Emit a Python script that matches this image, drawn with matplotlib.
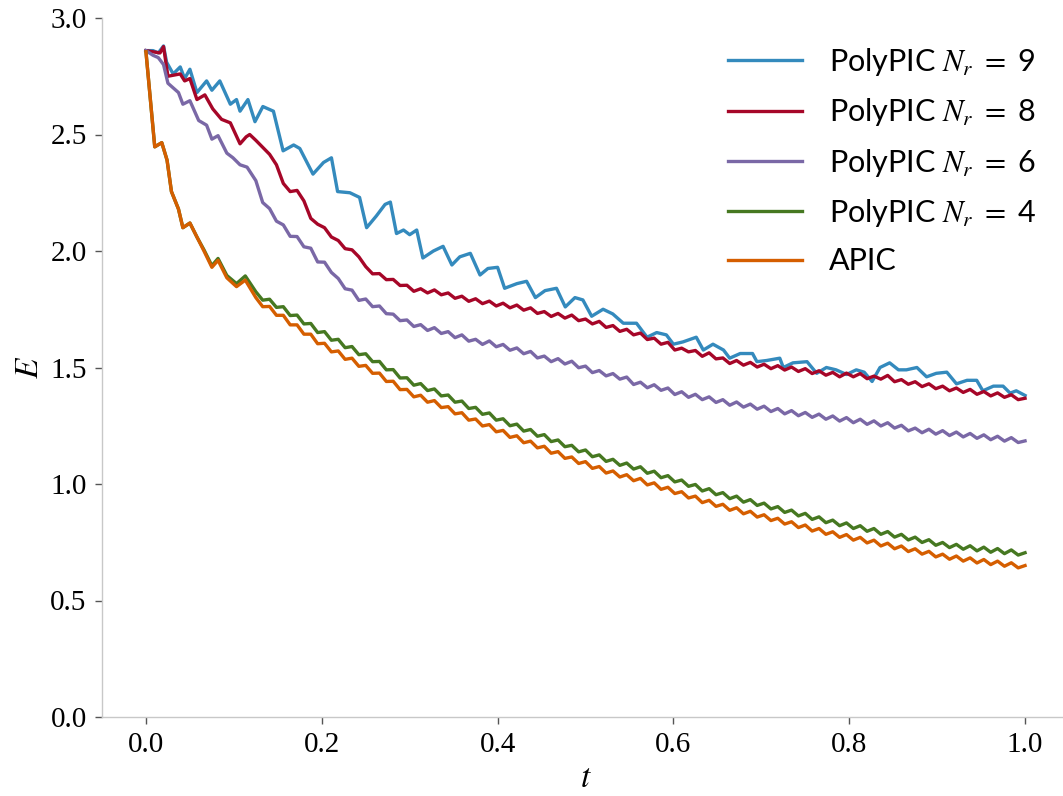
import numpy as np
import matplotlib
matplotlib.use("Agg")
import matplotlib.pyplot as plt

# energy E(t)
# late part of the four smooth-ish curves shares one time grid (0.125 .. 1.0)
t_grid = np.linspace(0.125, 1.0, 113)

# --- PolyPIC N_r = 9 (blue), irregular, own time points
t_nr9 = [0, 0.008, 0.014, 0.020, 0.0235, 0.031, 0.039, 0.044, 0.050, 0.058,
         0.069, 0.075, 0.084, 0.096, 0.103, 0.107, 0.116, 0.124, 0.133, 0.145,
         0.156, 0.168, 0.175, 0.190, 0.202, 0.211, 0.218, 0.232, 0.243, 0.251,
         0.262, 0.272, 0.278, 0.285, 0.293, 0.300, 0.308, 0.315, 0.327, 0.338,
         0.348, 0.357, 0.369, 0.380, 0.389, 0.400, 0.408, 0.422, 0.433, 0.443,
         0.454, 0.467, 0.477, 0.488, 0.497, 0.507, 0.520, 0.531, 0.543, 0.558,
         0.570, 0.581, 0.592, 0.600, 0.611, 0.626, 0.634, 0.645, 0.657, 0.664,
         0.676, 0.690, 0.695, 0.706, 0.721, 0.725, 0.736, 0.752, 0.763, 0.774,
         0.785, 0.797, 0.808, 0.817, 0.826, 0.835, 0.846, 0.856, 0.865, 0.877,
         0.888, 0.899, 0.911, 0.922, 0.934, 0.945, 0.952, 0.964, 0.975, 0.983,
         0.990, 1.000]
e_nr9 = [2.86, 2.86, 2.85, 2.88, 2.81, 2.76, 2.79, 2.74, 2.78, 2.68,
         2.73, 2.69, 2.73, 2.63, 2.65, 2.60, 2.65, 2.555, 2.62, 2.60,
         2.43, 2.455, 2.44, 2.33, 2.38, 2.40, 2.255, 2.25, 2.23, 2.10,
         2.15, 2.20, 2.21, 2.075, 2.09, 2.07, 2.09, 1.97, 2.00, 2.02,
         1.94, 1.975, 1.99, 1.897, 1.925, 1.93, 1.84, 1.86, 1.87, 1.80,
         1.83, 1.84, 1.76, 1.80, 1.79, 1.72, 1.75, 1.73, 1.69, 1.69,
         1.63, 1.65, 1.64, 1.60, 1.61, 1.63, 1.575, 1.60, 1.575, 1.54,
         1.56, 1.56, 1.525, 1.53, 1.54, 1.50, 1.52, 1.525, 1.475, 1.50,
         1.49, 1.47, 1.49, 1.48, 1.44, 1.50, 1.52, 1.49, 1.49, 1.50,
         1.46, 1.475, 1.48, 1.43, 1.445, 1.445, 1.40, 1.42, 1.42, 1.39,
         1.40, 1.38]

# --- PolyPIC N_r = 8 (red)
t_nr8_early = [0, 0.008, 0.016, 0.020, 0.025, 0.032, 0.039, 0.044, 0.050,
               0.058, 0.067, 0.076, 0.086, 0.096, 0.107, 0.114, 0.118]
e_nr8_early = [2.86, 2.855, 2.85, 2.877, 2.75, 2.755, 2.76, 2.73, 2.74,
               2.65, 2.67, 2.61, 2.565, 2.55, 2.46, 2.49, 2.50]
e_nr8_late = [
    2.475, 2.445, 2.415, 2.37, 2.29, 2.255, 2.26, 2.215, 2.14, 2.115, 2.10, 2.06, 2.045, 2.01, 2.005, 1.975,
    1.933, 1.902, 1.903, 1.877, 1.878, 1.852, 1.853, 1.827, 1.838, 1.820,
    1.833, 1.812, 1.820, 1.797, 1.806, 1.784, 1.795, 1.774, 1.785, 1.764,
    1.776, 1.756, 1.768, 1.746, 1.756, 1.732, 1.740, 1.719, 1.732, 1.712,
    1.725, 1.701, 1.708, 1.687, 1.698, 1.672, 1.680, 1.655, 1.664, 1.640,
    1.648, 1.620, 1.626, 1.600, 1.608, 1.575, 1.583, 1.567, 1.573, 1.548,
    1.563, 1.537, 1.541, 1.517, 1.530, 1.510, 1.522, 1.502, 1.514, 1.495,
    1.508, 1.489, 1.502, 1.483, 1.495, 1.474, 1.486, 1.467, 1.479, 1.460,
    1.476, 1.460, 1.474, 1.452, 1.463, 1.450, 1.466, 1.439, 1.448, 1.428,
    1.439, 1.418, 1.430, 1.409, 1.420, 1.400, 1.412, 1.393, 1.406, 1.385,
    1.397, 1.378, 1.391, 1.372, 1.383, 1.362, 1.368]

# --- PolyPIC N_r = 6 (purple)
t_nr6_early = [0, 0.008, 0.014, 0.020, 0.025, 0.031, 0.037, 0.042, 0.050,
               0.060, 0.069, 0.075, 0.082, 0.092, 0.099, 0.107, 0.115]
e_nr6_early = [2.86, 2.84, 2.83, 2.80, 2.72, 2.70, 2.68, 2.63, 2.645,
               2.56, 2.54, 2.48, 2.495, 2.42, 2.40, 2.37, 2.36]
e_nr6_late = [
    2.302, 2.208, 2.182, 2.128, 2.112, 2.063, 2.062, 2.018, 2.012, 1.953, 1.952, 1.908, 1.882, 1.838, 1.832, 1.788,
    1.794, 1.761, 1.764, 1.731, 1.729, 1.701, 1.704, 1.676, 1.684, 1.659,
    1.671, 1.646, 1.654, 1.628, 1.640, 1.613, 1.621, 1.599, 1.614, 1.589,
    1.599, 1.574, 1.584, 1.559, 1.569, 1.541, 1.549, 1.525, 1.538, 1.515,
    1.527, 1.499, 1.506, 1.478, 1.487, 1.464, 1.474, 1.450, 1.459, 1.427,
    1.437, 1.413, 1.426, 1.402, 1.412, 1.384, 1.396, 1.372, 1.385, 1.362,
    1.374, 1.350, 1.362, 1.338, 1.352, 1.330, 1.343, 1.321, 1.334, 1.311,
    1.324, 1.301, 1.315, 1.293, 1.307, 1.286, 1.300, 1.278, 1.292, 1.270,
    1.285, 1.263, 1.278, 1.256, 1.271, 1.249, 1.263, 1.240, 1.252, 1.228,
    1.240, 1.220, 1.235, 1.214, 1.229, 1.208, 1.223, 1.202, 1.217, 1.196,
    1.211, 1.190, 1.205, 1.184, 1.199, 1.178, 1.185]

# --- PolyPIC N_r = 4 (green) and APIC (orange), same early time points
t_low_early = [0, 0.010, 0.018, 0.024, 0.029, 0.037, 0.042, 0.050,
               0.058, 0.066, 0.075, 0.082, 0.092, 0.103, 0.113]
e_nr4_early = [2.855, 2.447, 2.465, 2.39, 2.255, 2.18, 2.10, 2.12,
               2.06, 2.005, 1.937, 1.968, 1.895, 1.86, 1.893]
e_nr4_late = [
    1.825, 1.789, 1.793, 1.758, 1.761, 1.723, 1.725, 1.687, 1.689, 1.650, 1.654, 1.617, 1.621, 1.585, 1.590, 1.555,
    1.559, 1.525, 1.526, 1.490, 1.491, 1.455, 1.456, 1.424, 1.431, 1.401,
    1.408, 1.378, 1.382, 1.351, 1.356, 1.324, 1.329, 1.299, 1.305, 1.274,
    1.280, 1.250, 1.257, 1.227, 1.234, 1.205, 1.212, 1.182, 1.189, 1.160,
    1.166, 1.138, 1.146, 1.117, 1.125, 1.097, 1.106, 1.080, 1.090, 1.064,
    1.074, 1.046, 1.055, 1.027, 1.036, 1.009, 1.017, 0.990, 0.998, 0.970,
    0.980, 0.954, 0.963, 0.937, 0.948, 0.922, 0.933, 0.908, 0.918, 0.893,
    0.903, 0.878, 0.888, 0.863, 0.874, 0.848, 0.859, 0.834, 0.845, 0.821,
    0.833, 0.809, 0.821, 0.797, 0.809, 0.784, 0.796, 0.772, 0.784, 0.760,
    0.772, 0.749, 0.761, 0.737, 0.749, 0.727, 0.741, 0.720, 0.735, 0.713,
    0.729, 0.707, 0.723, 0.701, 0.717, 0.695, 0.705]

e_apic_early = [2.855, 2.447, 2.465, 2.39, 2.255, 2.18, 2.10, 2.12,
                2.06, 2.00, 1.93, 1.96, 1.885, 1.847, 1.875]
e_apic_late = [
    1.800, 1.761, 1.762, 1.724, 1.724, 1.683, 1.683, 1.643, 1.643, 1.602, 1.604, 1.567, 1.571, 1.535, 1.540, 1.505,
    1.509, 1.475, 1.476, 1.440, 1.441, 1.405, 1.406, 1.374, 1.381, 1.351,
    1.358, 1.328, 1.332, 1.301, 1.306, 1.274, 1.279, 1.249, 1.255, 1.224,
    1.230, 1.200, 1.207, 1.177, 1.184, 1.155, 1.162, 1.132, 1.139, 1.110,
    1.116, 1.088, 1.096, 1.067, 1.075, 1.047, 1.056, 1.030, 1.040, 1.014,
    1.024, 0.996, 1.005, 0.977, 0.986, 0.959, 0.967, 0.940, 0.948, 0.920,
    0.930, 0.904, 0.913, 0.887, 0.898, 0.872, 0.883, 0.858, 0.868, 0.843,
    0.853, 0.828, 0.838, 0.813, 0.824, 0.798, 0.809, 0.784, 0.795, 0.771,
    0.783, 0.759, 0.771, 0.747, 0.759, 0.734, 0.746, 0.722, 0.734, 0.710,
    0.722, 0.699, 0.711, 0.687, 0.699, 0.677, 0.691, 0.669, 0.683, 0.661,
    0.676, 0.654, 0.669, 0.647, 0.662, 0.640, 0.650]

labels = ["PolyPIC $N_r$ $=$ 9", "PolyPIC $N_r$ $=$ 8", "PolyPIC $N_r$ $=$ 6",
          "PolyPIC $N_r$ $=$ 4", "APIC"]
colors = ["#348ABD", "#A60628", "#7A68A6", "#467821", "#D55E00"]

series = [
    (t_nr9, e_nr9),
    (np.concatenate([t_nr8_early, t_grid]), np.concatenate([e_nr8_early, e_nr8_late])),
    (np.concatenate([t_nr6_early, t_grid]), np.concatenate([e_nr6_early, e_nr6_late])),
    (np.concatenate([t_low_early, t_grid]), np.concatenate([e_nr4_early, e_nr4_late])),
    (np.concatenate([t_low_early, t_grid]), np.concatenate([e_apic_early, e_apic_late])),
]

plt.rcParams['mathtext.fontset'] = 'stix'
plt.rcParams['font.family'] = ['Liberation Serif', 'DejaVu Serif']

fig = plt.figure(figsize=(10.63, 7.96), dpi=100)
ax = fig.add_axes([102 / 1063, 1 - 717 / 796, 967 / 1063, 699 / 796])

for (t, e), lab, c in zip(series, labels, colors):
    ax.plot(t, e, color=c, lw=2.4, label=lab)

ax.set_xlim(-0.05, 1.05)
ax.set_ylim(0, 3)
ax.set_xticks([0, 0.2, 0.4, 0.6, 0.8, 1.0])
ax.set_yticks([0, 0.5, 1.0, 1.5, 2.0, 2.5, 3.0])
ax.set_xticklabels(["0.0", "0.2", "0.4", "0.6", "0.8", "1.0"])
ax.set_yticklabels(["0.0", "0.5", "1.0", "1.5", "2.0", "2.5", "3.0"])

for s in ["top", "right"]:
    ax.spines[s].set_visible(False)
for s in ["left", "bottom"]:
    ax.spines[s].set_color("#c8c8c8")
    ax.spines[s].set_linewidth(1.0)
ax.tick_params(direction="out", length=5, width=1, color="#555555",
               labelsize=21, pad=6)

ax.set_xlabel("$t$", fontsize=24, labelpad=4)
ax.set_ylabel("$E$", fontsize=24, labelpad=4)

ax.legend(loc="upper right", bbox_to_anchor=(1037 / 1063, 1 - 46 / 796),
          bbox_transform=fig.transFigure, frameon=False,
          prop={"family": "Lato", "size": 22}, handlelength=2.4,
          handletextpad=0.9, labelspacing=0.6, borderaxespad=0, borderpad=0)

fig.savefig("out.png", dpi=100)
